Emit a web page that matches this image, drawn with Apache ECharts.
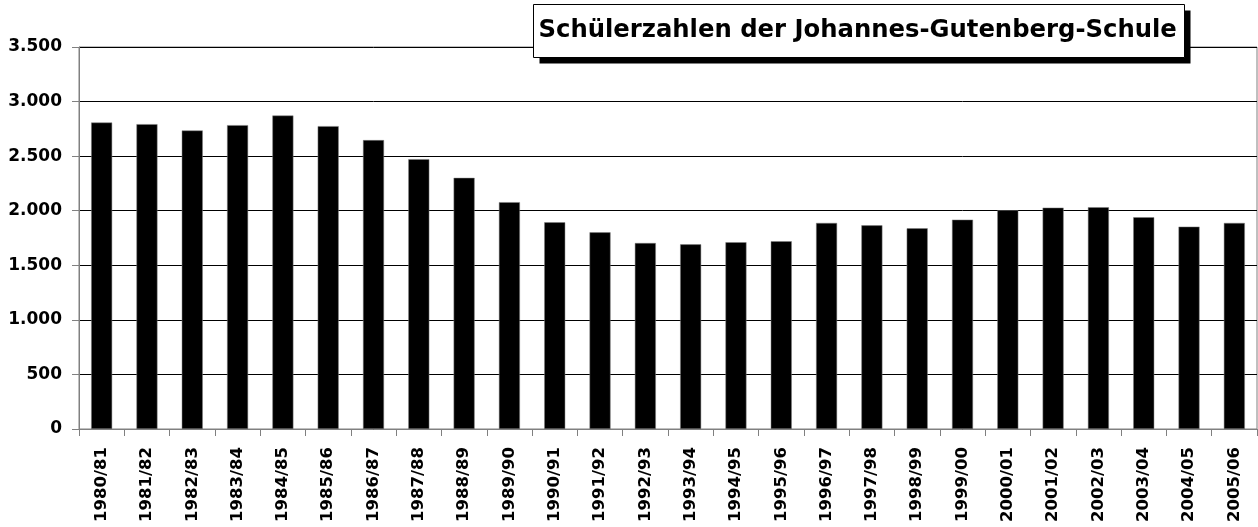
<!DOCTYPE html>
<html>
<head>
<meta charset="utf-8">
<title>Schülerzahlen</title>
<script src="https://cdn.jsdelivr.net/npm/echarts@6/dist/echarts.min.js"></script>
<style>
	html, body { margin: 0; padding: 0; background: #fff; }
	#mychart { width: 1258px; height: 527px; }
</style>
</head>
<body>
<div id="mychart"></div>
<script>
// Schuljahre
var years = ['1980/81', '1981/82', '1982/83', '1983/84', '1984/85', '1985/86', '1986/87', '1987/88', '1988/89', '1989/90',
	'1990/91', '1991/92', '1992/93', '1993/94', '1994/95', '1995/96', '1996/97', '1997/98', '1998/99', '1999/00',
	'2000/01', '2001/02', '2002/03', '2003/04', '2004/05', '2005/06'];
// Schülerzahlen
var pupils = [2808, 2793, 2735, 2784, 2872, 2775, 2647, 2472, 2301, 2078,
	1894, 1802, 1704, 1692, 1711, 1720, 1888, 1866, 1839, 1918,
	2004, 2028, 2032, 1940, 1854, 1888];
var titleText = 'Schülerzahlen der Johannes-Gutenberg-Schule';
var yMin = 0, yMax = 3500, yStep = 500;

var font = '"DejaVu Sans", "Open Sans", sans-serif';

function fmt(v) {
	return String(v).replace(/\B(?=(\d{3})+(?!\d))/g, '.');
}

// Titelkasten mit Schatten
var box = { x: 533.5, y: 4.5, w: 651, h: 53, off: 6 };

var myChart = echarts.init(document.getElementById('mychart'));
var option = {
	animation: false,
	backgroundColor: '#fff',
	graphic: [{
		type: 'rect',
		z: 100,
		shape: { x: box.x + box.off, y: box.y + box.off, width: box.w, height: box.h },
		style: { fill: '#000' }
	}, {
		type: 'rect',
		z: 101,
		shape: { x: box.x, y: box.y, width: box.w, height: box.h },
		style: { fill: '#fff', stroke: '#000', lineWidth: 1 }
	}, {
		type: 'text',
		z: 102,
		x: box.x + 5,
		y: box.y + box.h / 2,
		style: {
			text: titleText,
			fill: '#000',
			font: 'bold 24.3px ' + font,
			verticalAlign: 'middle'
		}
	}],
	grid: {
		left: 79,
		right: 1,
		top: 47,
		bottom: 98,
		show: true,
		borderColor: '#808080',
		borderWidth: 1,
		z: 0
	},
	xAxis: {
		type: 'category',
		data: years,
		boundaryGap: true,
		axisLine: { lineStyle: { color: '#808080', width: 1 } },
		axisTick: { show: true, length: 7, alignWithLabel: false, lineStyle: { color: '#808080' } },
		axisLabel: {
			interval: 0,
			rotate: 90,
			margin: 18,
			fontFamily: font,
			fontWeight: 'bold',
			fontSize: 16.5,
			color: '#000'
		}
	},
	yAxis: {
		type: 'value',
		min: yMin,
		max: yMax,
		interval: yStep,
		axisLine: { show: true, lineStyle: { color: '#808080', width: 1 } },
		axisTick: { show: true, length: 7, lineStyle: { color: '#808080' } },
		splitLine: { show: true, lineStyle: { color: '#000', width: 1 } },
		axisLabel: {
			margin: 17,
			formatter: fmt,
			fontFamily: font,
			fontWeight: 'bold',
			fontSize: 17,
			color: '#000'
		}
	},
	series: [{
		name: 'Schüler',
		type: 'bar',
		data: pupils,
		barWidth: 21,
		itemStyle: {
			color: '#000',
			borderColor: '#808080',
			borderWidth: 0.5
		}
	}]
};
myChart.setOption(option);
</script>
</body>
</html>
